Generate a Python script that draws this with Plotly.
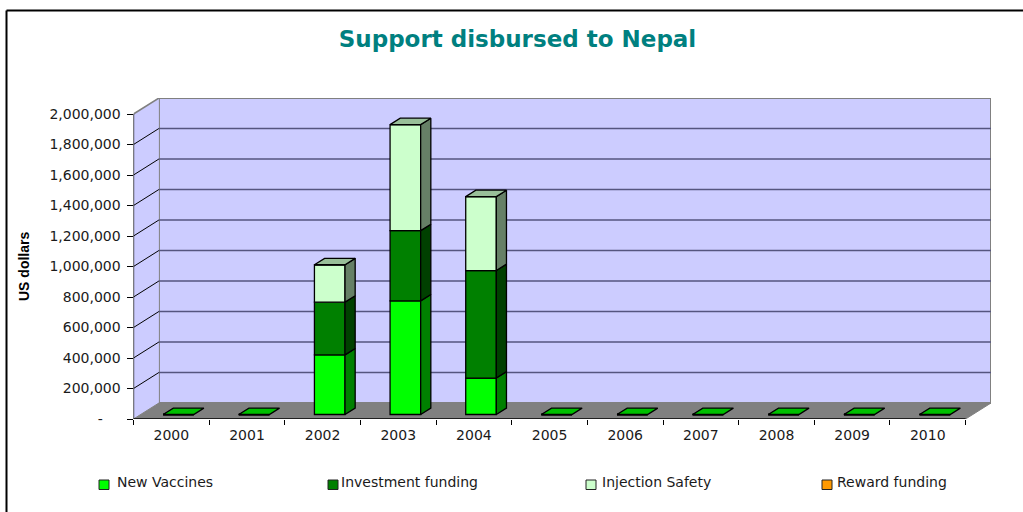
import plotly.graph_objects as go

YEARS = [2000, 2001, 2002, 2003, 2004, 2005, 2006, 2007, 2008, 2009, 2010]
NEW_VACCINES = [0, 0, 391000, 745000, 239000, 0, 0, 0, 0, 0, 0]
INVESTMENT = [0, 0, 346000, 461000, 705000, 0, 0, 0, 0, 0, 0]
INJECTION = [0, 0, 245000, 695000, 485000, 0, 0, 0, 0, 0, 0]
REWARD = [0, 0, 0, 0, 0, 0, 0, 0, 0, 0, 0]
Y_TICKS = [0, 200000, 400000, 600000, 800000, 1000000, 1200000, 1400000, 1600000, 1800000, 2000000]
Y_LABELS = ["-\u00a0\u00a0\u00a0\u00a0", "200,000", "400,000", "600,000", "800,000", "1,000,000", "1,200,000",
            "1,400,000", "1,600,000", "1,800,000", "2,000,000"]

W, H = 1023, 512
PX_L, PX_R, PX_B, PX_T = 133.5, 991.0, 419.0, 98.0
CAT_PX = (965.7 - 133.5) / 11
VAL_PX = 305.0 / 2000000
DX = 25.4 / CAT_PX      # depth of the chart box, data units
DY = 16.0 / VAL_PX
X0 = 1999.5
X1 = 2010.5
BAR_W = 30.6 / CAT_PX
D_FRONT, D_BACK = 0.28, 0.68


def proj(x, y, d):
    return x + d * DX, y + d * DY


series = [
    ("New Vaccines", NEW_VACCINES, "#00FF00", "#008000", "#00BF00"),
    ("Investment funding", INVESTMENT, "#008000", "#004000", "#006000"),
    ("Injection Safety", INJECTION, "#CCFFCC", "#668066", "#99BF99"),
    ("Reward funding", REWARD, "#FF9900", "#804D00", "#BF7300"),
]
LEGEND_SWATCH_PX = [99, 328, 586, 822]
LEGEND_TEXT_PX = [165, 409.5, 656.5, 891.5]

fig = go.Figure()
stack = [0] * len(YEARS)
side_traces = []
for i, (name, vals, front, side, top) in enumerate(series):
    base = [s + D_FRONT * DY for s in stack]
    fig.add_bar(x=YEARS, y=vals, base=base, width=BAR_W, offset=-BAR_W / 2 + D_FRONT * DX,
                name=name, marker=dict(color=front, line=dict(color="black", width=1.3)),
                showlegend=False, hoverinfo="skip")
    sx, sy = [], []
    for yr, s, v in zip(YEARS, stack, vals):
        if v > 0:
            xr = yr + BAR_W / 2
            pts = [proj(xr, s, D_FRONT), proj(xr, s, D_BACK), proj(xr, s + v, D_BACK), proj(xr, s + v, D_FRONT)]
            pts.append(pts[0])
            sx += [p[0] for p in pts] + [None]
            sy += [p[1] for p in pts] + [None]
    side_traces.append((name, sx, sy, side))
    stack = [s + v for s, v in zip(stack, vals)]

for name, sx, sy, side in side_traces:
    if sx:
        fig.add_scatter(x=sx, y=sy, mode="lines", fill="toself", fillcolor=side,
                        line=dict(color="black", width=1.3), showlegend=False, hoverinfo="skip")

for color, picks in (("#99BF99", [i for i, v in enumerate(INJECTION) if v > 0]),
                     ("#00BF00", [i for i, v in enumerate(stack) if v == 0])):
    tx, ty = [], []
    for i in picks:
        xl, xr = YEARS[i] - BAR_W / 2, YEARS[i] + BAR_W / 2
        pts = [proj(xl, stack[i], D_FRONT), proj(xr, stack[i], D_FRONT),
               proj(xr, stack[i], D_BACK), proj(xl, stack[i], D_BACK)]
        pts.append(pts[0])
        tx += [p[0] for p in pts] + [None]
        ty += [p[1] for p in pts] + [None]
    fig.add_scatter(x=tx, y=ty, mode="lines", fill="toself", fillcolor=color,
                    line=dict(color="black", width=1.3), showlegend=False, hoverinfo="skip")

# chart box: back wall, side wall, floor
WALL = "#CCCCFF"
GREY = "#808080"
shapes = []


def poly(pts, fill, line=None, width=0):
    path = "M" + " L".join(f"{x},{y}" for x, y in pts) + " Z"
    shapes.append(dict(type="path", path=path, fillcolor=fill, layer="below",
                       line=dict(color=line or fill, width=width)))


def seg(a, b, color, width):
    shapes.append(dict(type="line", x0=a[0], y0=a[1], x1=b[0], y1=b[1], layer="below",
                       line=dict(color=color, width=width)))


top = Y_TICKS[-1]
poly([proj(X0, 0, 1), proj(X1, 0, 1), proj(X1, top, 1), proj(X0, top, 1)], WALL, GREY, 2)
poly([proj(X0, 0, 0), proj(X0, 0, 1), proj(X0, top, 1), proj(X0, top, 0)], WALL)
for t in Y_TICKS[1:-1]:
    seg(proj(X0, t, 1), proj(X1, t, 1), "#55557F", 1.4)
for t in Y_TICKS[1:-1]:
    seg(proj(X0, t, 0), proj(X0, t, 1), "black", 1)
seg(proj(X0, top, 0), proj(X0, top, 1), GREY, 1.5)
poly([proj(X0, 0, 0), proj(X1, 0, 0), proj(X1, 0, 1), proj(X0, 0, 1)], GREY, GREY, 1)

# outer frame of the picture
for a, b in (((6.5, 512), (6.5, 10.5)), ((6.5, 10.5), (1023, 10.5))):
    shapes.append(dict(type="line", xref="paper", yref="paper", x0=a[0] / W, x1=b[0] / W,
                       y0=1 - a[1] / H, y1=1 - b[1] / H, line=dict(color="black", width=2)))

FONT = "DejaVu Sans"
TXT = "#1a1a1a"

annotations = [dict(text="<b>US dollars</b>", textangle=-90, xref="paper", yref="paper",
                    x=24 / W, y=1 - 267 / H, xanchor="center", yanchor="middle", showarrow=False,
                    font=dict(family="Liberation Sans", size=14, color="black"))]
# legend row
for (name, vals, front, side, tp), sw, tx in zip(series, LEGEND_SWATCH_PX, LEGEND_TEXT_PX):
    shapes.append(dict(type="rect", xref="paper", yref="paper", x0=sw / W, x1=(sw + 10) / W,
                       y0=1 - 489.5 / H, y1=1 - 480 / H, fillcolor=front,
                       line=dict(color="#222222", width=1)))
    annotations.append(dict(text=name, xref="paper", yref="paper", x=tx / W, y=1 - 482 / H,
                            xanchor="center", yanchor="middle", showarrow=False,
                            font=dict(family=FONT, size=14, color=TXT)))

fig.update_layout(
    width=W, height=H, margin=dict(l=0, r=0, t=0, b=0, pad=0, autoexpand=False), autosize=False,
    barmode="overlay", paper_bgcolor="white", plot_bgcolor="rgba(0,0,0,0)", showlegend=False,
    title=dict(text="<b>Support disbursed to Nepal</b>", x=517.5 / W, xanchor="center",
               y=1 - 39 / H, yanchor="middle",
               font=dict(family=FONT, size=23, color="#008080")),
    xaxis=dict(domain=[PX_L / W, PX_R / W], range=[X0, X1 + DX], showgrid=False, zeroline=False,
               automargin=False,
               tickmode="array", tickvals=YEARS, ticktext=[str(y) for y in YEARS], ticks="",
               tickfont=dict(family=FONT, size=14, color=TXT), showline=False, ticklabelstandoff=6,
               minor=dict(tickmode="array", tickvals=[y - 0.5 for y in YEARS] + [X1], ticks="outside",
                          ticklen=5, tickcolor="black", tickwidth=1, showgrid=False)),
    yaxis=dict(domain=[1 - PX_B / H, 1 - PX_T / H], range=[0, top + DY], showgrid=False, zeroline=False,
               automargin=False,
               tickmode="array", tickvals=Y_TICKS, ticktext=Y_LABELS, ticks="outside", ticklen=6,
               tickcolor="black", tickwidth=1, showline=False, ticklabelstandoff=3,
               tickfont=dict(family=FONT, size=14, color=TXT)),
    shapes=shapes, annotations=annotations,
)
# axis lines along the front edge of the box
fig.add_scatter(x=[X0, X0, None, X0, X1], y=[0, top, None, 0, 0], mode="lines",
                line=dict(color="black", width=1.3), showlegend=False, hoverinfo="skip", cliponaxis=False)

fig.write_html("out.html", config={"displayModeBar": False},
               post_script="document.body.style.margin='0';")
